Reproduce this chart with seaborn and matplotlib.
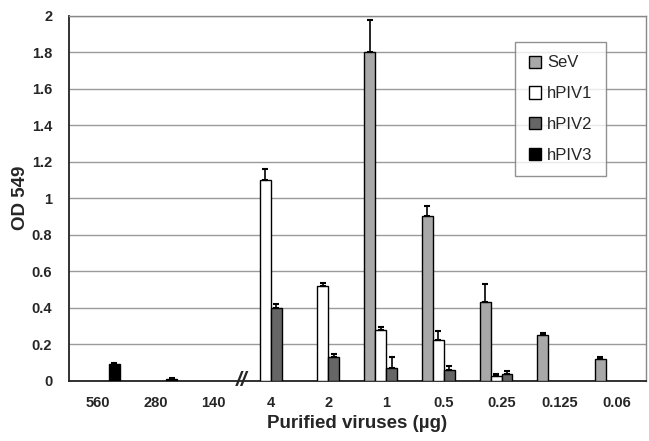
import numpy as np
import pandas as pd
import seaborn as sns
import matplotlib.pyplot as plt

# doses on the x axis (left three are the hPIV3 dilution, then the µg series)
doses = ['560', '280', '140', '4', '2', '1', '0.5', '0.25', '0.125', '0.06']
viruses = ['SeV', 'hPIV1', 'hPIV2', 'hPIV3']

# OD 549 means (nan = no bar)
sev = [np.nan, np.nan, np.nan, np.nan, np.nan, 1.80, 0.90, 0.43, 0.25, 0.12]
hpiv1 = [np.nan, np.nan, np.nan, 1.10, 0.52, 0.28, 0.22, 0.025, np.nan, np.nan]
hpiv2 = [np.nan, np.nan, np.nan, 0.40, 0.13, 0.07, 0.06, 0.035, np.nan, np.nan]
hpiv3 = [0.09, 0.01, np.nan, np.nan, np.nan, np.nan, np.nan, np.nan, np.nan, np.nan]

# upper error bars
sev_err = [0, 0, 0, 0, 0, 0.18, 0.06, 0.10, 0.01, 0.01]
hpiv1_err = [0, 0, 0, 0.06, 0.015, 0.015, 0.05, 0.01, 0, 0]
hpiv2_err = [0, 0, 0, 0.02, 0.015, 0.06, 0.02, 0.015, 0, 0]
hpiv3_err = [0.005, 0.005, 0, 0, 0, 0, 0, 0, 0, 0]

colors = ['#a8a8a8', '#ffffff', '#666666', '#000000']

means = [sev, hpiv1, hpiv2, hpiv3]
errs = [sev_err, hpiv1_err, hpiv2_err, hpiv3_err]

rows = []
for v, vals, ers in zip(viruses, means, errs):
    for d, m, e in zip(doses, vals, ers):
        if not np.isnan(m):
            rows.append({'Dose': d, 'Virus': v, 'OD': m, 'Err': e})
df = pd.DataFrame(rows)

sns.set_style('white')
plt.rcParams['font.family'] = ['Liberation Sans', 'DejaVu Sans']

fig = plt.figure(figsize=(6.49, 4.41), dpi=100)
ax = fig.add_axes([0.106, 0.137, 0.889, 0.827])

width = 0.76
sns.barplot(data=df, x='Dose', y='OD', hue='Virus', order=doses, hue_order=viruses,
            palette=colors, width=width, edgecolor='black', linewidth=1.0,
            errorbar=None, ax=ax, zorder=3)

# upper-only error bars
n = len(viruses)
bw = width / n
for i, v in enumerate(viruses):
    sub = df[df['Virus'] == v]
    xs = [doses.index(d) - width / 2 + bw * (i + 0.5) for d in sub['Dose']]
    ax.errorbar(xs, sub['OD'], yerr=[np.zeros(len(sub)), sub['Err']], fmt='none',
                ecolor='black', elinewidth=1.2, capsize=2.5, capthick=1.5, zorder=4)

ax.set_ylim(0, 2)
ax.set_xlim(-0.5, len(doses) - 0.5)
ax.set_yticks(np.arange(0, 2.01, 0.2))
ax.set_yticklabels(['0', '0.2', '0.4', '0.6', '0.8', '1', '1.2', '1.4', '1.6', '1.8', '2'])
ax.yaxis.grid(True, color='#9a9a9a', linewidth=1.0, zorder=0)
ax.set_axisbelow(True)

ax.set_xticks(range(len(doses)))
ax.set_xticklabels(doses)
ax.set_xticks(np.arange(-0.5, len(doses), 1.0), minor=True)
ax.tick_params(axis='x', which='major', length=0, pad=11, labelsize=10.5)
ax.tick_params(axis='x', which='minor', length=4, color='#555555', direction='out')
ax.tick_params(axis='y', length=4, color='#555555', direction='out', labelsize=10.5, pad=8)
for lab in ax.get_xticklabels() + ax.get_yticklabels():
    lab.set_fontweight('bold')

for s in ['left', 'bottom']:
    ax.spines[s].set_color('#222222')
    ax.spines[s].set_linewidth(1.3)
for s in ['top', 'right']:
    ax.spines[s].set_color('#888888')
    ax.spines[s].set_linewidth(1.0)

ax.set_ylabel('OD 549', fontsize=13.5, fontweight='bold', labelpad=2)
ax.set_xlabel('Purified viruses (µg)', fontsize=13.5, fontweight='bold', labelpad=4)

# axis break mark between 140 and 4
ax.text(2.5, 0, '//', ha='center', va='center', fontsize=15, fontweight='bold',
        fontstyle='italic', transform=ax.transData, clip_on=False, zorder=6)

leg = ax.legend(loc='upper right', bbox_to_anchor=(0.931, 0.928), borderaxespad=0,
                frameon=True, fancybox=False, edgecolor='#777777', fontsize=12,
                handlelength=0.75, handleheight=0.75, handletextpad=0.35,
                labelspacing=0.95, borderpad=0.8, title=None)
leg.get_frame().set_linewidth(1.0)

fig.savefig('out.png', dpi=100)
